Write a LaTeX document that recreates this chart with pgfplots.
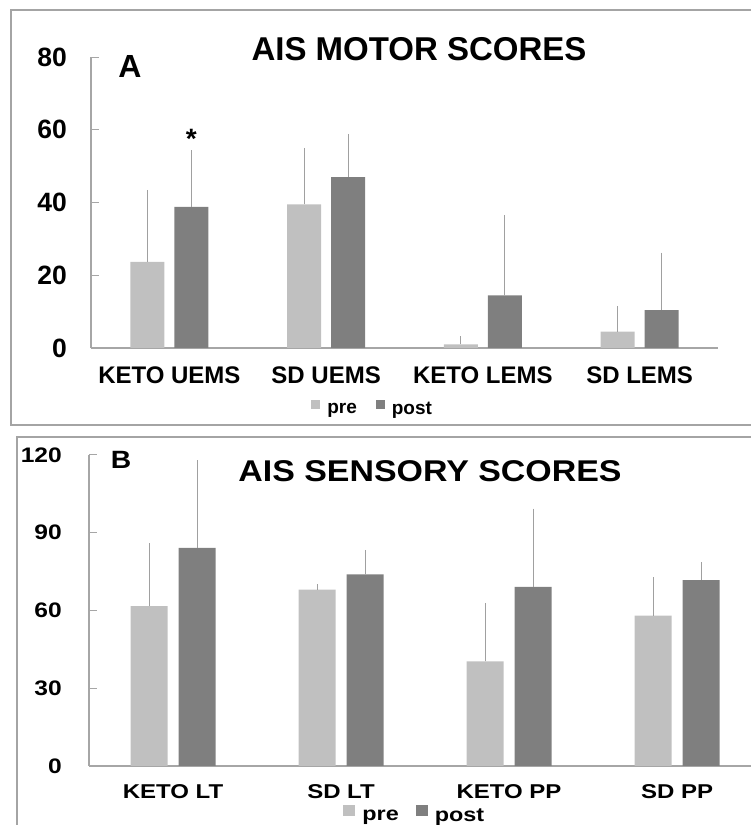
\documentclass[border=0pt]{standalone}
\usepackage{fontspec}
\setmainfont{Liberation Sans}
\newfontfamily\fBt{Liberation Sans}[FakeStretch=1.13]
\newfontfamily\fBl{Liberation Sans}[FakeStretch=1.2]
\newfontfamily\fBk{Liberation Sans}[FakeStretch=1.17]
\usepackage{pgfplots}
\usepackage{pgfplotstable}
\pgfplotsset{compat=1.18}
\definecolor{preC}{HTML}{C0C0C0}
\definecolor{postC}{HTML}{7F7F7F}
\definecolor{axC}{HTML}{A6A6A6}
\definecolor{errC}{HTML}{A0A0A0}
\definecolor{frC}{HTML}{A4A4A4}

\pgfplotstableread{
x y e
0 23.7 19.1
1 39.5 14.8
2 1.0 1.5
3 4.5 6.4
}\Apre
\pgfplotstableread{
x y e
0 38.8 14.9
1 47.0 11.2
2 14.5 21.4
3 10.4 15.1
}\Apost
\pgfplotstableread{
x y e
0 61.7 23.2
1 68.1 1.0
2 40.4 21.6
3 58.0 13.9
}\Bpre
\pgfplotstableread{
x y e
0 84.2 32.8
1 73.9 8.5
2 69.1 29.2
3 71.7 6.0
}\Bpost

\pgfplotsset{
  common/.style={
    scale only axis, anchor=south west, clip=false,
    axis x line=bottom, axis y line=left,
    axis line style={-, draw=axC, line width=1.3pt},
    xtick={0,1,2,3}, xtick style={draw=none},
    ytick style={draw=axC, line width=1pt},
    tick align=inside, major tick length=8pt,
    /pgf/number format/assume math mode=true,
    yticklabel style={anchor=east, inner sep=0pt},
    xticklabel style={anchor=base, inner sep=0pt},
    legend columns=2,
  },
  errs/.style={
    error bars/y dir=plus, error bars/y explicit,
    error bars/error bar style={line width=0.8pt, draw=errC},
    error bars/error mark options={line width=0.8pt, draw=errC, mark size=2.5pt},
  },
}

\begin{document}
\begin{tikzpicture}
\path[use as bounding box] (0pt,0pt) rectangle (751pt,825pt);
\draw[frC, line width=1.5pt] (755pt,815pt) -- (11pt,815pt) -- (11pt,400pt) -- (755pt,400pt);
\draw[frC, line width=1.5pt] (755pt,388pt) -- (17pt,388pt) -- (17pt,-5pt);

% Panel A
\begin{axis}[common,
  at={(91pt,477pt)}, width=627pt, height=291pt,
  xmin=-0.5, xmax=3.5, ymin=0, ymax=80, ytick={0,20,40,60,80},
  ybar=10pt, bar width=34pt,
  xticklabels={KETO UEMS, SD UEMS, KETO LEMS, SD LEMS},
  yticklabel style={font=\fontsize{26.5}{30}\selectfont\bfseries, xshift=-24pt},
  xticklabel style={font=\fontsize{24}{28}\selectfont\bfseries, yshift=-27.5pt},
  legend image code/.code={\fill[#1,draw=none] (0pt,0pt) rectangle (9pt,9pt);},
  legend style={at={(0.351,-0.21)}, anchor=west, draw=none, fill=none, inner sep=0pt,
    font=\fontsize{19}{22}\selectfont\bfseries,
    nodes={inner xsep=7pt},
    /tikz/every even column/.append style={column sep=12pt}},
]
\addplot[fill=preC, draw=none, errs] table[x=x, y=y, y error=e]{\Apre};
\addplot[fill=postC, draw=none, errs] table[x=x, y=y, y error=e]{\Apost};
\legend{pre, post}
\node[font=\fontsize{28}{28}\selectfont\bfseries, anchor=base] at (axis cs:0.14,54.8) {*};
\end{axis}
\node[font=\fontsize{33}{36}\selectfont\bfseries] at (419pt,776pt) {AIS MOTOR SCORES};
\node[font=\fontsize{32}{36}\selectfont\bfseries] at (130pt,758.5pt) {A};

% Panel B
\begin{axis}[common,
  at={(89pt,59pt)}, width=662pt, height=311pt,
  xmin=-0.5, xmax=3.44, ymin=0, ymax=120, ytick={0,30,60,90,120},
  ybar=11pt, bar width=37pt,
  xticklabels={KETO LT, SD LT, KETO PP, SD PP},
  yticklabel style={font=\fBk\fontsize{21}{24}\selectfont\bfseries, xshift=-27pt},
  xticklabel style={font=\fBl\fontsize{20}{22}\selectfont\bfseries, yshift=-24pt},
  legend image code/.code={\fill[#1,draw=none] (0pt,0pt) rectangle (12pt,11pt);},
  legend style={at={(0.384,-0.158)}, anchor=west, draw=none, fill=none, inner sep=0pt,
    font=\fBl\fontsize{19.5}{22}\selectfont\bfseries,
    nodes={inner xsep=7pt},
    /tikz/every even column/.append style={column sep=10pt}},
]
\addplot[fill=preC, draw=none, errs] table[x=x, y=y, y error=e]{\Bpre};
\addplot[fill=postC, draw=none, errs] table[x=x, y=y, y error=e]{\Bpost};
\legend{pre, post}
\end{axis}
\node[font=\fBt\fontsize{30}{34}\selectfont\bfseries] at (430pt,354pt) {AIS SENSORY SCORES};
\node[font=\fBt\fontsize{25}{28}\selectfont\bfseries] at (121pt,365pt) {B};
\end{tikzpicture}
\end{document}
